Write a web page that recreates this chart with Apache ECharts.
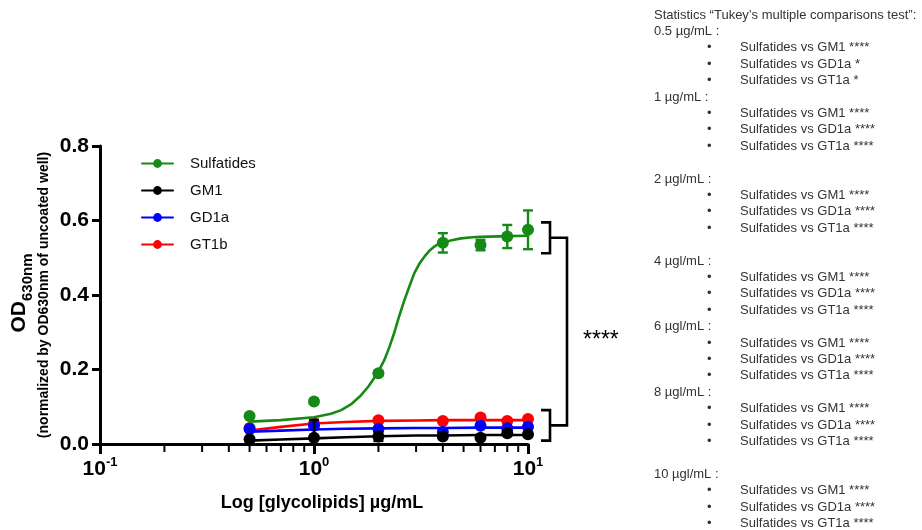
<!DOCTYPE html>
<html><head><meta charset="utf-8">
<script src="https://cdn.jsdelivr.net/npm/echarts@6/dist/echarts.min.js"></script>
<style>html,body{margin:0;padding:0;background:#fff}#c{width:922px;height:530px}</style>
</head><body><div id="c"></div>
<script>
// ---- data ----
const concentrations = [0.5, 1, 2, 4, 6, 8, 10];
const sulfatides    = [0.075, 0.114, 0.190, 0.540, 0.534, 0.557, 0.575];
const sulfatidesErr = [0.004, 0.005, 0.006, 0.026, 0.014, 0.031, 0.052];
const gm1           = [0.013, 0.017, 0.020, 0.020, 0.017, 0.029, 0.026];
const gm1Err        = [0.003, 0.048, 0.012, 0.003, 0.004, 0.004, 0.003];
const gd1a          = [0.040, 0.049, 0.040, 0.032, 0.049, 0.042, 0.046];
const gd1aErr       = [0.003, 0.004, 0.004, 0.003, 0.004, 0.004, 0.003];
const gt1b          = [0.043, 0.055, 0.064, 0.062, 0.071, 0.062, 0.067];
const gt1bErr       = [0.003, 0.004, 0.004, 0.003, 0.004, 0.004, 0.003];

// fitted curves
const sulfatidesFitX = [0.5, 0.7, 1, 1.2, 1.34, 1.5, 1.66, 1.8, 1.91, 2, 2.13, 2.25, 2.37, 2.5, 2.64, 2.79, 2.94, 3.1, 3.28, 3.45, 3.65, 3.82, 4, 4.4, 4.86, 5.5, 6, 8, 10];
const sulfatidesFit  = [0.060, 0.064, 0.072, 0.081, 0.091, 0.108, 0.131, 0.155, 0.177, 0.195, 0.225, 0.260, 0.298, 0.343, 0.385, 0.423, 0.458, 0.483, 0.503, 0.518, 0.530, 0.537, 0.541, 0.547, 0.552, 0.555, 0.556, 0.558, 0.559];
const lowFitX = [0.5, 0.7, 1, 1.4, 2, 3, 4, 6, 8, 10];
const gm1Fit  = [0.009, 0.012, 0.015, 0.018, 0.021, 0.023, 0.023, 0.024, 0.024, 0.024];
const gd1aFit = [0.033, 0.036, 0.039, 0.041, 0.042, 0.043, 0.043, 0.044, 0.044, 0.044];
const gt1bFit = [0.036, 0.046, 0.055, 0.059, 0.062, 0.063, 0.064, 0.064, 0.064, 0.064];

const seriesNames = ['Sulfatides', 'GM1', 'GD1a', 'GT1b'];
const xMinorTicks = [0.2, 0.3, 0.4, 0.5, 0.6, 0.7, 0.8, 0.9, 2, 3, 4, 5, 6, 7, 8, 9];

// significance brackets (value ranges)
const bracketHigh = [0.512, 0.595];
const bracketLow  = [0.009, 0.091];
const bracketLabel = '****';

// statistics text
const statTitle = 'Statistics \u201cTukey\u2019s multiple comparisons test\u201d:';
const statGroups = ['0.5 \u00b5g/mL :', '1 \u00b5g/mL :', '2 \u00b5gl/mL :', '4 \u00b5gl/mL :', '6 \u00b5gl/mL :', '8 \u00b5gl/mL :', '10 \u00b5gl/mL :'];
const statComparisons = ['Sulfatides vs GM1', 'Sulfatides vs GD1a', 'Sulfatides vs GT1a'];
const statStars = [
  ['****', '*', '*'],
  ['****', '****', '****'],
  ['****', '****', '****'],
  ['****', '****', '****'],
  ['****', '****', '****'],
  ['****', '****', '****'],
  ['****', '****', '****']
];
const statBlankAfter = [false, true, true, false, false, true, false];

// ---- chart ----
const FONT = "'Liberation Sans', Arial, Helvetica, sans-serif";
const colors = {Sulfatides: '#168a16', GM1: '#000000', GD1a: '#0000ff', GT1b: '#ff0000'};
const zOrder = {Sulfatides: 8, GM1: 6, GD1a: 4, GT1b: 2};
const pts = {Sulfatides: sulfatides, GM1: gm1, GD1a: gd1a, GT1b: gt1b};
const errs = {Sulfatides: sulfatidesErr, GM1: gm1Err, GD1a: gd1aErr, GT1b: gt1bErr};
const fits = {Sulfatides: [sulfatidesFitX, sulfatidesFit], GM1: [lowFitX, gm1Fit], GD1a: [lowFitX, gd1aFit], GT1b: [lowFitX, gt1bFit]};

const chart = echarts.init(document.getElementById('c'), null, {renderer: 'canvas'});

const series = [];
seriesNames.forEach(n => {
  const [fx, fy] = fits[n];
  series.push({
    type: 'line', name: n, smooth: false,
    symbol: 'circle', symbolSize: 11, showSymbol: false,
    lineStyle: {color: colors[n], width: 2.6, join: 'round', cap: 'round'}, itemStyle: {color: colors[n]},
    data: fx.map((x, i) => [x, fy[i]]), z: zOrder[n], silent: true
  });
});
seriesNames.forEach(n => {
  series.push({
    type: 'custom', name: n, z: zOrder[n] + 1, silent: true,
    encode: {x: 0, y: 1},
    data: concentrations.map((x, i) => [x, pts[n][i], errs[n][i]]),
    renderItem: (params, api) => {
      const x = api.value(0), y = api.value(1), e = api.value(2);
      const t = api.coord([x, y + e]), b = api.coord([x, Math.max(0, y - e)]);
      const hw = 5, st = {stroke: colors[n], lineWidth: 2.4};
      return {type: 'group', children: [
        {type: 'line', shape: {x1: t[0], y1: t[1], x2: b[0], y2: b[1]}, style: st},
        {type: 'line', shape: {x1: t[0] - hw, y1: t[1], x2: t[0] + hw, y2: t[1]}, style: st},
        {type: 'line', shape: {x1: b[0] - hw, y1: b[1], x2: b[0] + hw, y2: b[1]}, style: st}
      ]};
    }
  });
  series.push({
    type: 'scatter', name: n, symbol: 'circle', symbolSize: 12, z: zOrder[n] + 1,
    itemStyle: {color: colors[n], opacity: 1}, silent: true,
    data: concentrations.map((x, i) => [x, pts[n][i]])
  });
});

const option = {
  animation: false,
  backgroundColor: '#fff',
  grid: {left: 100, top: 146, width: 428, height: 298, containLabel: false},
  legend: {
    data: seriesNames, orient: 'vertical', left: 136, top: 151,
    itemWidth: 31, itemHeight: 11, itemGap: 12,
    textStyle: {fontFamily: FONT, fontSize: 15, color: '#111', padding: [0, 0, 0, 12]},
    selectedMode: false
  },
  xAxis: {
    type: 'log', logBase: 10, min: 0.1, max: 10,
    axisLine: {show: true, lineStyle: {color: '#000', width: 3}},
    axisTick: {show: true, length: 10, lineStyle: {color: '#000', width: 3}},
    splitLine: {show: false},
    axisLabel: {
      margin: 12, color: '#000',
      formatter: v => '{b|10}{sup|' + Math.round(Math.log10(v)) + '}',
      rich: {
        b: {fontFamily: FONT, fontSize: 21, fontWeight: 'bold', color: '#000', lineHeight: 26},
        sup: {fontFamily: FONT, fontSize: 13, fontWeight: 'bold', color: '#000', verticalAlign: 'top', lineHeight: 14}
      }
    }
  },
  yAxis: {
    type: 'value', min: 0, max: 0.8, interval: 0.2,
    axisLine: {show: true, lineStyle: {color: '#000', width: 3}},
    axisTick: {show: true, length: 8, lineStyle: {color: '#000', width: 3}},
    splitLine: {show: false},
    axisLabel: {
      margin: 11, color: '#000', fontFamily: FONT, fontSize: 21, fontWeight: 'bold',
      formatter: v => v.toFixed(1)
    }
  },
  series: series
};
chart.setOption(option);

// ---- annotations via the chart's own scales ----
const px = (x, y) => chart.convertToPixel({gridIndex: 0}, [x, y]);
const graphics = [];
const axisY = px(1, 0)[1];
xMinorTicks.forEach(v => {
  const p = px(v, 0);
  graphics.push({type: 'line', shape: {x1: p[0], y1: axisY, x2: p[0], y2: axisY + 8},
    style: {stroke: '#000', lineWidth: 2}, z: 10});
});

const xEnd = px(10, 0)[0];
const xa = xEnd + 13, xb = xEnd + 22, xc = xEnd + 39;
const hiTop = px(10, bracketHigh[1])[1], hiBot = px(10, bracketHigh[0])[1];
const loTop = px(10, bracketLow[1])[1], loBot = px(10, bracketLow[0])[1];
const hiMid = (hiTop + hiBot) / 2, loMid = (loTop + loBot) / 2;
const bst = {stroke: '#000', lineWidth: 2.6, fill: null};
graphics.push({type: 'polyline', shape: {points: [[xa, hiTop], [xb, hiTop], [xb, hiBot], [xa, hiBot]]}, style: bst});
graphics.push({type: 'polyline', shape: {points: [[xa, loTop], [xb, loTop], [xb, loBot], [xa, loBot]]}, style: bst});
graphics.push({type: 'polyline', shape: {points: [[xb, hiMid], [xc, hiMid], [xc, loMid], [xb, loMid]]}, style: bst});
graphics.push({type: 'text', x: xc + 16, y: (hiMid + loMid) / 2 + 9,
  style: {text: bracketLabel, fontFamily: FONT, fontSize: 23, fill: '#000', textAlign: 'left', textVerticalAlign: 'middle'}});

// axis titles
const xMid = (px(0.1, 0)[0] + xEnd) / 2;
graphics.push({type: 'text', x: xMid + 8, y: 503,
  style: {text: 'Log [glycolipids] \u00b5g/mL', fontFamily: FONT, fontSize: 18, fontWeight: 'bold', fill: '#000',
    textAlign: 'center', textVerticalAlign: 'middle'}});
const yMid = (px(1, 0)[1] + px(1, 0.8)[1]) / 2;
graphics.push({type: 'text', x: 22, y: yMid - 2, rotation: Math.PI / 2,
  style: {text: '{a|OD}{s|630nm}', textAlign: 'center', textVerticalAlign: 'middle',
    rich: {
      a: {fontFamily: FONT, fontSize: 21, fontWeight: 'bold', fill: '#000', lineHeight: 26, verticalAlign: 'top'},
      s: {fontFamily: FONT, fontSize: 15, fontWeight: 'bold', fill: '#000', lineHeight: 26, verticalAlign: 'bottom', padding: [10, 0, 0, 0]}
    }}});
graphics.push({type: 'text', x: 44, y: yMid, rotation: Math.PI / 2,
  style: {text: '(normalized by OD630nm of uncoated well)', fontFamily: FONT, fontSize: 14, fontWeight: 'bold', fill: '#000',
    textAlign: 'center', textVerticalAlign: 'middle'}});

// statistics block
const lines = [{t: statTitle, kind: 'h'}];
statGroups.forEach((g, gi) => {
  lines.push({t: g, kind: 'h'});
  statComparisons.forEach((c, ci) => lines.push({t: c + ' ' + statStars[gi][ci], kind: 'i'}));
  if (statBlankAfter[gi]) lines.push(null);
});
lines.forEach((ln, i) => {
  if (!ln) return;
  const y = 15 + i * 16.4;
  const st = {fontFamily: FONT, fontSize: 13, fill: '#333', textVerticalAlign: 'middle', textAlign: 'left'};
  if (ln.kind === 'h') {
    graphics.push({type: 'text', x: 654, y: y, style: Object.assign({text: ln.t}, st)});
  } else {
    graphics.push({type: 'text', x: 707, y: y, style: Object.assign({text: '\u2022'}, st)});
    graphics.push({type: 'text', x: 740, y: y, style: Object.assign({text: ln.t}, st)});
  }
});

chart.setOption({graphic: graphics});
</script>
</body></html>
